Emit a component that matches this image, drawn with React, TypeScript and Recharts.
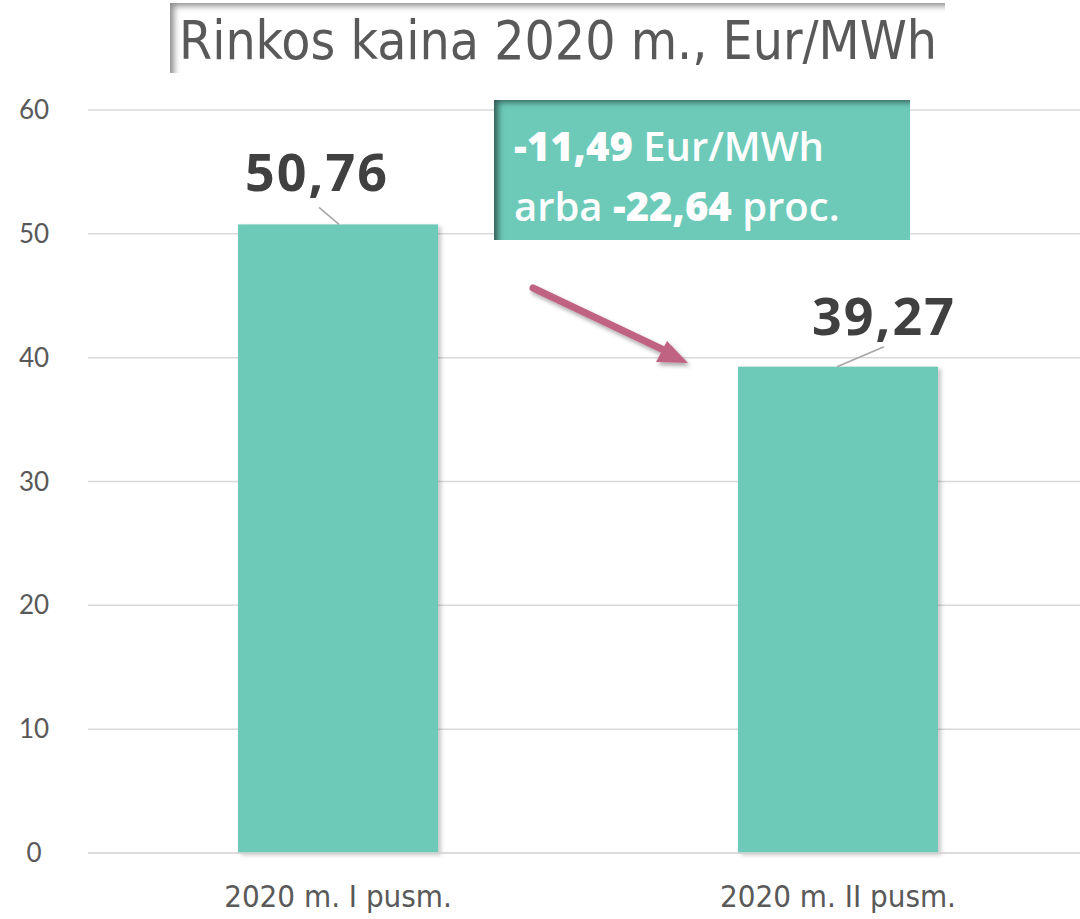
import React from 'react';
import { BarChart, Bar, XAxis, YAxis, CartesianGrid, LabelList } from 'recharts';

const categories = ['2020 m. I pusm.', '2020 m. II pusm.'];
const prices = [50.76, 39.27];
const yTicks = [0, 10, 20, 30, 40, 50, 60];

const data = categories.map((name, i) => ({ name, price: prices[i] }));

const fmt = (v: number) => v.toFixed(2).replace('.', ',');

const ValueLabel = (props: any) => {
  const { x, y, width, value, index } = props;
  const cx = x + width / 2;
  // first label sits a little left, second one to the right of its bar
  const tx = index === 0 ? cx - 21 : cx + 46;
  const ty = index === 0 ? y - 33 : y - 32;
  const line = index === 0
    ? { x1: cx - 19, y1: y - 17, x2: cx + 1, y2: y }
    : { x1: cx + 46, y1: y - 20, x2: cx - 1, y2: y };
  return (
    <g>
      <line {...line} stroke="#a6a6a6" strokeWidth={1.5} />
      <text x={tx} y={ty} textAnchor="middle" fill="#404040"
        style={{ fontFamily: '"Open Sans", sans-serif', fontWeight: 700, fontSize: 52, letterSpacing: 2 }}>
        {fmt(value)}
      </text>
    </g>
  );
};

const ShadowBar = (props: any) => {
  const { x, y, width, height, fill } = props;
  return (
    <g>
      <rect x={x + 3} y={y + 2} width={width} height={height} fill="rgba(0,0,0,0.22)" filter="url(#soft)" />
      <rect x={x} y={y} width={width} height={height} fill={fill} />
    </g>
  );
};

const YTick = (props: any) => {
  const { y, payload } = props;
  return (
    <text x={34} y={y + 9} textAnchor="middle" fill="#595959"
      style={{ fontFamily: 'Lato, sans-serif', fontSize: 26 }}>
      {payload.value}
    </text>
  );
};

const XTick = (props: any) => {
  const { x, y, payload } = props;
  return (
    <text x={x} y={y + 46} textAnchor="middle" fill="#595959"
      style={{ fontFamily: '"Liberation Sans Narrow", "DejaVu Sans Condensed", sans-serif', fontSize: 31 }}>
      {payload.value}
    </text>
  );
};

export default function App() {
  return (
    <div style={{ position: 'absolute', left: 0, top: 0, width: 1080, height: 919, background: '#fff', overflow: 'hidden' }}>
      <BarChart width={1080} height={919} data={data}
        margin={{ top: 110, right: -8, left: 0, bottom: 36 }} barCategoryGap="30%">
        <defs>
          <filter id="soft" x="-10%" y="-10%" width="130%" height="130%">
            <feGaussianBlur stdDeviation="2" />
          </filter>
        </defs>
        <CartesianGrid vertical={false} stroke="#d9d9d9" strokeWidth={1.5} />
        <YAxis width={88} domain={[0, 60]} ticks={yTicks} axisLine={false} tickLine={false} tick={<YTick />} />
        <XAxis dataKey="name" axisLine={{ stroke: '#d9d9d9', strokeWidth: 1.5 }} tickLine={false} tick={<XTick />} />
        <Bar dataKey="price" fill="#6dcab9" isAnimationActive={false} shape={<ShadowBar />}>
          <LabelList dataKey="price" content={<ValueLabel />} />
        </Bar>
      </BarChart>

      {/* title box */}
      <div style={{
        position: 'absolute', left: 170, top: 3, width: 775, height: 70, background: '#fff',
        boxShadow: 'inset 7px 6px 6px -3px rgba(0,0,0,0.45)', boxSizing: 'border-box',
        fontFamily: '"DejaVu Sans Condensed", "Open Sans", sans-serif', fontSize: 53, color: '#595959',
        lineHeight: '76px', paddingLeft: 9, whiteSpace: 'nowrap',
      }}>
        Rinkos kaina 2020 m., Eur/MWh
      </div>

      {/* change annotation */}
      <div style={{
        position: 'absolute', left: 494, top: 100, width: 416, height: 140, background: '#6dcab9',
        boxShadow: 'inset 8px 6px 6px -4px rgba(0,0,0,0.55)', boxSizing: 'border-box',
        fontFamily: '"Open Sans", sans-serif', fontSize: 40, color: '#fff', fontWeight: 600,
        paddingLeft: 20, paddingTop: 16, lineHeight: '60px', whiteSpace: 'nowrap',
      }}>
        <div><span style={{ fontWeight: 800 }}>-11,49</span> Eur/MWh</div>
        <div>arba <span style={{ fontWeight: 800 }}>-22,64</span> proc.</div>
      </div>

      {/* arrow */}
      <svg width={1080} height={919} style={{ position: 'absolute', left: 0, top: 0, pointerEvents: 'none' }}>
        <defs>
          <filter id="ash" x="-20%" y="-20%" width="140%" height="140%">
            <feDropShadow dx="2" dy="3" stdDeviation="2" floodColor="#000" floodOpacity="0.35" />
          </filter>
        </defs>
        <g filter="url(#ash)">
          <line x1={533} y1={288} x2={668} y2={352} stroke="#c06482" strokeWidth={7} strokeLinecap="round" />
          <polygon points="688,363 656,362 667,341" fill="#c06482" />
        </g>
      </svg>
    </div>
  );
}
